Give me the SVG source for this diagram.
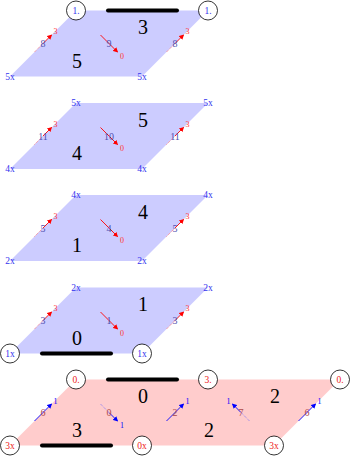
<svg xmlns="http://www.w3.org/2000/svg" width="352" height="457" viewBox="0 0 352 457">
<defs>
<marker id="ar" viewBox="0 0 6 6" refX="5" refY="3" markerWidth="5" markerHeight="5" orient="auto" markerUnits="userSpaceOnUse"><path d="M0,0 L6,3 L0,6 z" fill="#ff0000"/></marker>
<marker id="ab" viewBox="0 0 6 6" refX="5" refY="3" markerWidth="5" markerHeight="5" orient="auto" markerUnits="userSpaceOnUse"><path d="M0,0 L6,3 L0,6 z" fill="#0000ff"/></marker>
</defs>
<style>
text{font-family:"Liberation Serif","DejaVu Serif",serif;text-anchor:middle}
.pb{fill:#ccccff;stroke:none}
.pp{fill:#ffcccc;stroke:none}
.big{font-size:20px;fill:#000}
.cb{font-size:9.5px;fill:#3333ee}
.cr{font-size:9.5px;fill:#ee2222}
.lb{font-size:10px;fill:#5050b0}
.lr{font-size:10px;fill:#b04848}
.eb{font-size:8px;fill:#0000ff}
.er{font-size:8px;fill:#ff3333}
.ring{fill:#fff;stroke:#000;stroke-width:0.8}
.bar{stroke:#000;stroke-width:4;stroke-linecap:round}
.sr{stroke:#ff0000;stroke-width:0.9;fill:none}
.sb{stroke:#0000ff;stroke-width:0.9;fill:none}
.fr{stroke:#ff6666;stroke-width:0.8;stroke-dasharray:1 1;fill:none}
.fb{stroke:#6666ff;stroke-width:0.8;stroke-dasharray:1 1;fill:none}
</style>

<!-- Panel 1 -->
<g id="panel1">
<polygon class="pb" points="10,76.5 142,76.5 208,10.5 76,10.5"/>
<text class="big" x="143" y="34">3</text>
<text class="big" x="77" y="67.5">5</text>
<line class="bar" x1="108" y1="10.5" x2="177" y2="10.5"/>
<circle class="ring" cx="76" cy="10.5" r="9.5"/><text class="cb" x="76" y="13.8">1.</text>
<circle class="ring" cx="208" cy="10.5" r="9.5"/><text class="cb" x="208" y="13.8">1.</text>
<text class="cb" x="10" y="79.8">5x</text>
<text class="cb" x="142" y="79.8">5x</text>
</g>

<!-- Panel 2 -->
<g id="panel2">
<polygon class="pb" points="10,169 142,169 208,103 76,103"/>
<text class="big" x="143" y="126.5">5</text>
<text class="big" x="77" y="160">4</text>
<text class="cb" x="76" y="106.3">5x</text>
<text class="cb" x="208" y="106.3">5x</text>
<text class="cb" x="10" y="172.3">4x</text>
<text class="cb" x="142" y="172.3">4x</text>
</g>

<!-- Panel 3 -->
<g id="panel3">
<polygon class="pb" points="10,261 142,261 208,195 76,195"/>
<text class="big" x="143" y="218.5">4</text>
<text class="big" x="77" y="252">1</text>
<text class="cb" x="76" y="198.3">4x</text>
<text class="cb" x="208" y="198.3">4x</text>
<text class="cb" x="10" y="264.3">2x</text>
<text class="cb" x="142" y="264.3">2x</text>
</g>

<!-- Panel 4 -->
<g id="panel4">
<polygon class="pb" points="10,353.5 142,353.5 208,287.5 76,287.5"/>
<text class="big" x="143" y="311">1</text>
<text class="big" x="77" y="344.5">0</text>
<line class="bar" x1="42" y1="353.5" x2="111" y2="353.5"/>
<text class="cb" x="76" y="290.8">2x</text>
<text class="cb" x="208" y="290.8">2x</text>
<circle class="ring" cx="10" cy="353.5" r="9.5"/><text class="cb" x="10" y="356.8">1x</text>
<circle class="ring" cx="142" cy="353.5" r="9.5"/><text class="cb" x="142" y="356.8">1x</text>
</g>

<!-- Panel 5 -->
<g id="panel5">
<polygon class="pp" points="10,445.5 274,445.5 340,379.5 76,379.5"/>
<text class="big" x="143" y="403">0</text>
<text class="big" x="77" y="436.5">3</text>
<text class="big" x="275" y="403">2</text>
<text class="big" x="209" y="436.5">2</text>
<line class="bar" x1="108" y1="379.5" x2="177" y2="379.5"/>
<line class="bar" x1="42" y1="445.5" x2="111" y2="445.5"/>
<circle class="ring" cx="76" cy="379.5" r="9.5"/><text class="cr" x="76" y="382.8">0.</text>
<circle class="ring" cx="208" cy="379.5" r="9.5"/><text class="cr" x="208" y="382.8">3.</text>
<circle class="ring" cx="340" cy="379.5" r="9.5"/><text class="cr" x="340" y="382.8">0.</text>
<circle class="ring" cx="10" cy="445.5" r="9.5"/><text class="cr" x="10" y="448.8">3x</text>
<circle class="ring" cx="142" cy="445.5" r="9.5"/><text class="cr" x="142" y="448.8">0x</text>
<circle class="ring" cx="274" cy="445.5" r="9.5"/><text class="cr" x="274" y="448.8">3x</text>
</g>

<!-- Connectors (edge arrows) -->
<g id="connectors">
<!-- panel 1 -->
<line class="fr" x1="34.5" y1="52" x2="43" y2="43.5"/><line class="sr" x1="43" y1="43.5" x2="51.5" y2="35" marker-end="url(#ar)"/>
<line class="sr" x1="100.5" y1="35" x2="117.5" y2="52" marker-end="url(#ar)"/>
<line class="fr" x1="166.5" y1="52" x2="175" y2="43.5"/><line class="sr" x1="175" y1="43.5" x2="183.5" y2="35" marker-end="url(#ar)"/>
<!-- panel 2 -->
<line class="fr" x1="34.5" y1="144.5" x2="43" y2="136"/><line class="sr" x1="43" y1="136" x2="51.5" y2="127.5" marker-end="url(#ar)"/>
<line class="sr" x1="100.5" y1="127.5" x2="117.5" y2="144.5" marker-end="url(#ar)"/>
<line class="fr" x1="166.5" y1="144.5" x2="175" y2="136"/><line class="sr" x1="175" y1="136" x2="183.5" y2="127.5" marker-end="url(#ar)"/>
<!-- panel 3 -->
<line class="fr" x1="34.5" y1="236.5" x2="43" y2="228"/><line class="sr" x1="43" y1="228" x2="51.5" y2="219.5" marker-end="url(#ar)"/>
<line class="sr" x1="100.5" y1="219.5" x2="117.5" y2="236.5" marker-end="url(#ar)"/>
<line class="fr" x1="166.5" y1="236.5" x2="175" y2="228"/><line class="sr" x1="175" y1="228" x2="183.5" y2="219.5" marker-end="url(#ar)"/>
<!-- panel 4 -->
<line class="fr" x1="34.5" y1="329" x2="43" y2="320.5"/><line class="sr" x1="43" y1="320.5" x2="51.5" y2="312" marker-end="url(#ar)"/>
<line class="sr" x1="100.5" y1="312" x2="117.5" y2="329" marker-end="url(#ar)"/>
<line class="fr" x1="166.5" y1="329" x2="175" y2="320.5"/><line class="sr" x1="175" y1="320.5" x2="183.5" y2="312" marker-end="url(#ar)"/>
<!-- panel 5 -->
<line class="sb" x1="34.5" y1="421" x2="51.5" y2="404" marker-end="url(#ab)"/>
<line class="fb" x1="100.5" y1="404" x2="109" y2="412.5"/><line class="sb" x1="109" y1="412.5" x2="117.5" y2="421" marker-end="url(#ab)"/>
<line class="sb" x1="166.5" y1="421" x2="183.5" y2="404" marker-end="url(#ab)"/>
<line class="fb" x1="249.5" y1="421" x2="241" y2="412.5"/><line class="sb" x1="241" y1="412.5" x2="232.5" y2="404" marker-end="url(#ab)"/>
<line class="sb" x1="298.5" y1="421" x2="315.5" y2="404" marker-end="url(#ab)"/>
</g>

<!-- edge labels -->
<g id="edge-labels">
<text class="lb" x="43" y="47">8</text><text class="lb" x="109" y="47">9</text><text class="lb" x="175" y="47">8</text>
<text class="er" x="55.5" y="34">3</text><text class="er" x="122" y="58.5">0</text><text class="er" x="187.5" y="34">3</text>

<text class="lb" x="43" y="139.5">11</text><text class="lb" x="109" y="139.5">10</text><text class="lb" x="175" y="139.5">11</text>
<text class="er" x="55.5" y="126.5">3</text><text class="er" x="122" y="151">0</text><text class="er" x="187.5" y="126.5">3</text>

<text class="lb" x="43" y="231.5">5</text><text class="lb" x="109" y="231.5">4</text><text class="lb" x="175" y="231.5">5</text>
<text class="er" x="55.5" y="218.5">3</text><text class="er" x="122" y="243">0</text><text class="er" x="187.5" y="218.5">3</text>

<text class="lb" x="43" y="324">3</text><text class="lb" x="109" y="324">1</text><text class="lb" x="175" y="324">3</text>
<text class="er" x="55.5" y="311">3</text><text class="er" x="122" y="335.5">0</text><text class="er" x="187.5" y="311">3</text>

<text class="lr" x="43" y="416">6</text><text class="lr" x="109" y="416">0</text><text class="lr" x="175" y="416">2</text><text class="lr" x="241" y="416">7</text><text class="lr" x="307" y="416">6</text>
<text class="eb" x="55.5" y="404">1</text><text class="eb" x="122" y="428">1</text><text class="eb" x="187.5" y="404">1</text><text class="eb" x="228.5" y="404">1</text><text class="eb" x="319.5" y="404">1</text>
</g>
</svg>
